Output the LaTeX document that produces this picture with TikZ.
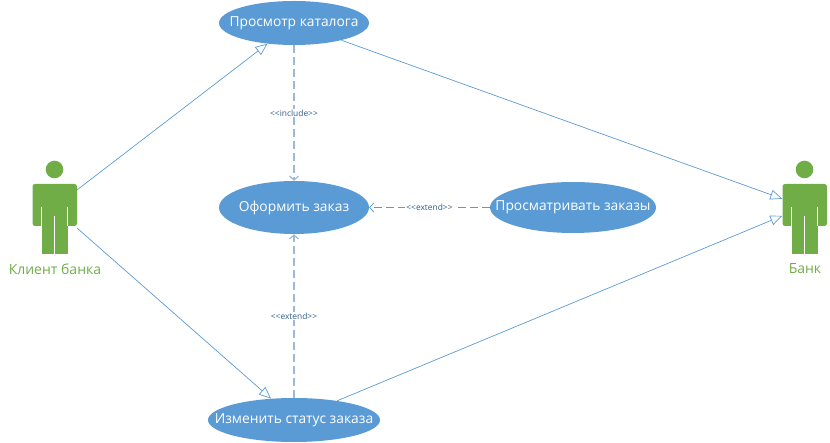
\documentclass[tikz,border=0pt]{standalone}
\usepackage{fontspec}
\setmainfont{Open Sans}
\usetikzlibrary{arrows.meta,shapes.geometric}
\definecolor{ublue}{HTML}{5B9BD5}
\definecolor{ugreen}{HTML}{70AD47}
\definecolor{ulabel}{HTML}{2F5E8E}
\definecolor{udash}{HTML}{9DB9D6}
\newcommand{\fitlabel}[1]{\makebox[0pt][c]{\raisebox{-1.2pt}{#1}}}
\tikzset{
  usecase/.style={ellipse,fill=ublue,inner sep=0pt,text=white,font=\fontsize{13.8}{15}\selectfont},
  actortorso/.style={rectangle,fill=ugreen,rounded corners=2.5pt,minimum width=44.5pt,minimum height=42pt,inner sep=0pt},
  actorname/.style={text=ugreen,font=\fontsize{14}{16}\selectfont,inner sep=0pt},
  assoc/.style={draw=ublue,line width=0.7pt,-{Triangle[open,fill=white,length=12pt,width=10pt]}},
  depend/.style={draw=ublue,line width=0.8pt,dash pattern=on 8pt off 4pt,-{Straight Barb[length=4pt,width=9pt]}},
  dependv/.style={depend,draw=udash,line width=1.2pt},
  stereo/.style={fill=white,text=ulabel,inner sep=1pt,font=\fontsize{8.4}{10}\selectfont},
}
\begin{document}
\begin{tikzpicture}[x=1pt,y=-1pt]
\useasboundingbox (0,0) rectangle (830,443);
% use cases
\node[usecase,minimum width=150pt,minimum height=44pt] (catalog) at (294,23) {\fitlabel{Просмотр каталога}};
\node[usecase,minimum width=150pt,minimum height=53pt] (order) at (294,207.5) {\fitlabel{Оформить заказ}};
\node[usecase,minimum width=166pt,minimum height=51pt] (view) at (573,207.5) {\fitlabel{Просматривать заказы}};
\node[usecase,minimum width=172pt,minimum height=44pt] (status) at (294,420) {\fitlabel{Изменить статус заказа}};
% client actor
\fill[ugreen] (54.5,169.5) circle (8.8);
\node[actortorso] (client) at (54.75,205) {};
\fill[ugreen] (41.7,215) rectangle (68.3,254);
\draw[white,line width=0.8pt] (41.7,207) -- (41.7,226.5) (67.8,207) -- (67.8,226.5) (54.6,216) -- (54.6,254.5);
\node[actorname] (clientname) at (55,269) {Клиент банка};
% bank actor
\fill[ugreen] (804.5,169.5) circle (8.8);
\node[actortorso] (bank) at (804.75,205) {};
\fill[ugreen] (791.7,215) rectangle (818.3,254);
\draw[white,line width=0.8pt] (791.7,207) -- (791.7,226.5) (817.8,207) -- (817.8,226.5) (804.6,216) -- (804.6,254.5);
\node[actorname] (bankname) at (805,269) {Банк};
% associations
\draw[assoc] ([yshift=-6pt]client.north east) -- (catalog.218);
\draw[assoc] ([yshift=-2pt]client.south east) -- (status.137.5);
\draw[assoc] (catalog.-20) -- ([yshift=-15pt]bank.north west);
\draw[assoc] (status.24) -- ([yshift=-32pt]bank.north west);
% dependencies
\draw[dependv] (catalog.south) -- node[stereo,pos=0.5] (inc) {{<}{<}include{>}{>}} (order.north);
\draw[dependv] (status.north) -- node[stereo,pos=0.5] (ext1) {{<}{<}extend{>}{>}} (order.south);
\draw[depend] (view.west) -- node[stereo,pos=0.5] (ext2) {{<}{<}extend{>}{>}} (order.east);
\end{tikzpicture}
\end{document}
